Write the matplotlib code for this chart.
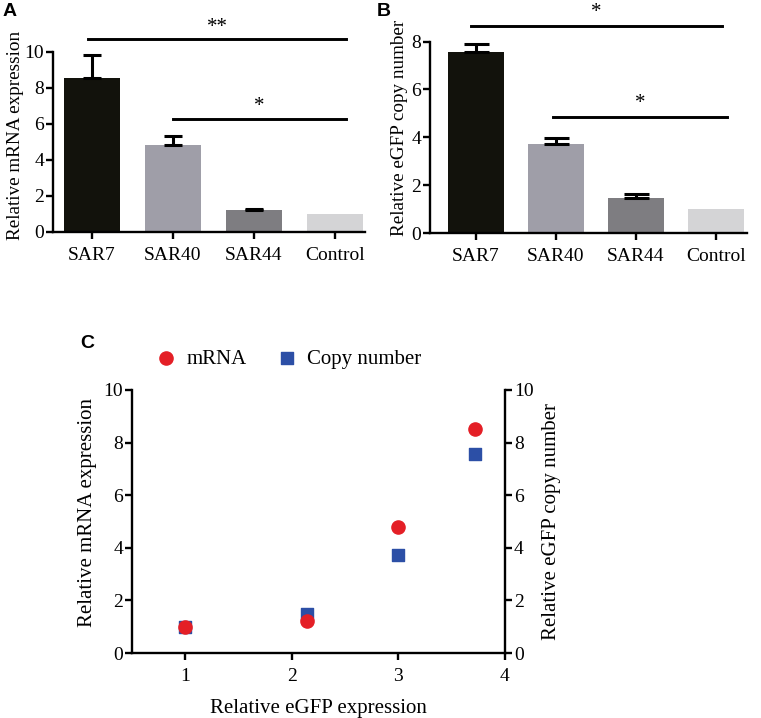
import matplotlib
matplotlib.use("Agg")
import matplotlib.pyplot as plt
import numpy as np

plt.rcParams["font.family"] = ["Liberation Serif", "DejaVu Serif"]
plt.rcParams["font.size"] = 14

# data
groups = ["SAR7", "SAR40", "SAR44", "Control"]
mrna = [8.55, 4.83, 1.22, 1.0]
mrna_err = [1.28, 0.5, 0.08, 0.0]
copy_num = [7.58, 3.72, 1.46, 1.0]
copy_err = [0.32, 0.25, 0.17, 0.0]
bar_colors = ["#12120c", "#9f9ea8", "#7e7d81", "#d4d4d6"]

egfp_expr = [1.0, 2.14, 3.0, 3.72]
mrna_pts = [1.0, 1.2, 4.8, 8.5]
copy_pts = [1.0, 1.47, 3.72, 7.58]

W, H = 761, 718
fig = plt.figure(figsize=(W / 100, H / 100), dpi=100)


def px_axes(left, top, right, bottom):
    return fig.add_axes([left / W, 1 - bottom / H, (right - left) / W, (bottom - top) / H])


def style(ax):
    for s in ["top", "right"]:
        ax.spines[s].set_visible(False)
    for s in ["left", "bottom"]:
        ax.spines[s].set_linewidth(1.7)
    ax.tick_params(width=1.7, length=5, direction="out", labelsize=14)
    ax.tick_params(axis="x", pad=6)
    ax.tick_params(axis="y", pad=1.5)


def bar_panel(ax, vals, errs, ylim, ytop, yticks, ylabel, sig, cap):
    x = np.arange(len(groups))
    ax.bar(x, vals, width=0.7, color=bar_colors)
    ax.errorbar(x[:3], vals[:3], yerr=[[0, 0, 0], errs[:3]], fmt="none",
                ecolor="black", elinewidth=2.2, capsize=cap, capthick=2.2)
    style(ax)
    ax.set_ylim(*ylim)
    ax.spines["left"].set_bounds(0, ytop)
    ax.set_yticks(yticks)
    ax.set_xticks(x)
    ax.set_xticklabels(groups)
    ax.set_ylabel(ylabel, fontsize=13.8)
    for x0, x1, y, txt in sig:
        ax.plot([x0, x1], [y, y], color="black", lw=2.1, clip_on=False)
        ax.text((x0 + x1) / 2, y + 0.15, txt, ha="center", va="bottom", fontsize=15)


# panel A
axA = px_axes(53, 23, 365, 232)
axA.set_xlim(-0.48, 3.37)
bar_panel(axA, mrna, mrna_err, (0, 11.6), 10, [0, 2, 4, 6, 8, 10],
          "Relative mRNA expression",
          [(-0.05, 3.14, 10.7, "**"), (1.0, 3.14, 6.28, "*")], 6.5)
axA.yaxis.set_label_coords(-0.092, 0.46)

# panel B
axB = px_axes(430, 8, 747, 233)
axB.set_xlim(-0.575, 3.39)
bar_panel(axB, copy_num, copy_err, (0, 9.4), 8, [0, 2, 4, 6, 8],
          "Relative eGFP copy number",
          [(-0.06, 3.08, 8.66, "*"), (0.96, 3.14, 4.85, "*")], 9)
axB.yaxis.set_label_coords(-0.07, 0.467)

# panel C
axC = px_axes(132, 390, 505, 653)
axC.scatter(egfp_expr, mrna_pts, s=90, marker="o", color="#e41f26", zorder=3, label="mRNA")
axC2 = axC.twinx()
axC2.scatter(egfp_expr, copy_pts, s=80, marker="s", color="#2c4fa6", zorder=2, label="Copy number")
axC.set_zorder(axC2.get_zorder() + 1)
axC.patch.set_visible(False)
axC.set_xlim(0.5, 4)
axC.set_ylim(0, 10)
axC2.set_ylim(0, 10)
axC.set_xticks([1, 2, 3, 4])
axC.set_yticks([0, 2, 4, 6, 8, 10])
axC2.set_yticks([0, 2, 4, 6, 8, 10])
style(axC)
for s in ["top", "left", "bottom"]:
    axC2.spines[s].set_visible(False)
axC2.spines["right"].set_linewidth(1.7)
axC2.tick_params(width=1.7, length=5, direction="out", labelsize=14, pad=1.5)
axC.set_xlabel("Relative eGFP expression", fontsize=15, labelpad=10)
axC.set_ylabel("Relative mRNA expression", fontsize=15)
axC.yaxis.set_label_coords(-0.094, 0.536)
axC2.set_ylabel("Relative eGFP copy number", fontsize=15, labelpad=6)

h1, l1 = axC.get_legend_handles_labels()
h2, l2 = axC2.get_legend_handles_labels()
axC.legend(h1 + h2, l1 + l2, loc="center", bbox_to_anchor=(0.42, 1.118), ncol=2,
           frameon=False, fontsize=15, handlelength=1.0, handletextpad=0.5,
           columnspacing=1.4)

# panel letters
for lbl, (x, y) in zip("ABC", [(3, 3), (377, 3), (80, 335)]):
    fig.text(x / W, 1 - y / H, lbl, fontsize=14, fontweight="bold",
             family=["Liberation Sans", "DejaVu Sans"], va="top", ha="left")

fig.savefig("out.png", dpi=100)
